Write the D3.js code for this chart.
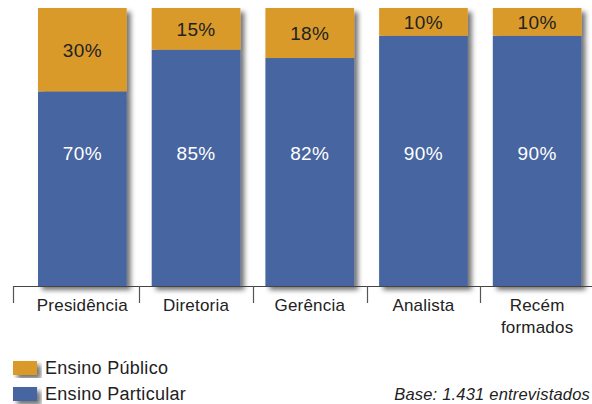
<!DOCTYPE html>
<html>
<head>
<meta charset="utf-8">
<script src="https://cdn.jsdelivr.net/npm/d3@7"></script>
<style>
  html, body { margin: 0; padding: 0; background: #fff; }
  svg { display: block; font-family: "Liberation Sans", Arial, Helvetica, sans-serif; }
</style>
</head>
<body>
<svg id="chart" width="592" height="404"></svg>
<script>
// Categories and shares (%) by school type
const categories = ["Presidência", "Diretoria", "Gerência", "Analista", "Recém formados"];
const publico = [30, 15, 18, 10, 10];
const particular = [70, 85, 82, 90, 90];
const seriesNames = ["Ensino Público", "Ensino Particular"];
const seriesColors = ["#DA9A2A", "#4765A1"];
const baseNote = "Base: 1.431 entrevistados";

const svg = d3.select("#chart");

// Drop shadow used by bars and legend swatches
const defs = svg.append("defs");
const f = defs.append("filter").attr("id", "shadow")
  .attr("x", "-10%").attr("y", "-10%").attr("width", "130%").attr("height", "130%");
f.append("feDropShadow").attr("dx", 4).attr("dy", 4).attr("stdDeviation", 2.6)
  .attr("flood-color", "#000").attr("flood-opacity", 0.55);

const x = d3.scaleBand().domain(categories).range([25.5, 594]).paddingInner(0.22).paddingOuter(0.11);
const y = d3.scaleLinear().domain([0, 100]).range([286, 8]);

const rows = categories.map((c, i) => ({ cat: c, pub: publico[i], par: particular[i] }));

// Stacked bars: private school at bottom, public on top
const g = svg.append("g");
const bar = g.selectAll("g.bar").data(rows).join("g").attr("class", "bar");

bar.append("g").attr("filter", "url(#shadow)").call(sel => {
  sel.append("rect")
    .attr("x", d => x(d.cat)).attr("width", x.bandwidth())
    .attr("y", d => y(d.par)).attr("height", d => y(0) - y(d.par))
    .attr("fill", seriesColors[1]);
  sel.append("rect")
    .attr("x", d => x(d.cat)).attr("width", x.bandwidth())
    .attr("y", d => y(d.par + d.pub)).attr("height", d => y(d.par) - y(d.par + d.pub))
    .attr("fill", seriesColors[0]);
});

// Value labels
bar.append("text")
  .attr("x", d => x(d.cat) + x.bandwidth() / 2)
  .attr("y", d => (y(d.par + d.pub) + y(d.par)) / 2)
  .attr("dy", "0.36em")
  .attr("text-anchor", "middle")
  .attr("font-size", 19)
  .attr("letter-spacing", 0.4)
  .attr("fill", "#222")
  .text(d => d.pub + "%");

bar.append("text")
  .attr("x", d => x(d.cat) + x.bandwidth() / 2)
  .attr("y", y(47.8))
  .attr("dy", "0.36em")
  .attr("text-anchor", "middle")
  .attr("font-size", 19)
  .attr("letter-spacing", 0.4)
  .attr("fill", "#fff")
  .text(d => d.par + "%");

// Baseline with separators between categories
const axis = svg.append("g");
const half = x.step() * x.paddingInner() / 2;
const axisStart = x(categories[0]) - 2 * half;
axis.append("line")
  .attr("x1", axisStart).attr("x2", 592)
  .attr("y1", y(0) + 0.5).attr("y2", y(0) + 0.5)
  .attr("stroke", "#444").attr("stroke-width", 1.2);
const seps = [axisStart].concat(categories.slice(1).map(c => x(c) - half));
axis.selectAll("line.sep").data(seps).join("line").attr("class", "sep")
  .attr("x1", d => Math.round(d) + 0.5).attr("x2", d => Math.round(d) + 0.5)
  .attr("y1", y(0)).attr("y2", y(0) + 17)
  .attr("stroke", "#555").attr("stroke-width", 1.2);

// Category labels (split on space for the last one)
axis.selectAll("text.cat").data(categories).join("text").attr("class", "cat")
  .attr("x", d => x(d) + x.bandwidth() / 2)
  .attr("y", 311)
  .attr("text-anchor", "middle")
  .attr("font-size", 17)
  .attr("letter-spacing", 0.2)
  .attr("fill", "#222")
  .each(function (d) {
    const parts = d === "Recém formados" ? ["Recém", "formados"] : [d];
    d3.select(this).selectAll("tspan").data(parts).join("tspan")
      .attr("x", x(d) + x.bandwidth() / 2)
      .attr("dy", (p, i) => i === 0 ? 0 : 22)
      .text(p => p);
  });

// Legend
const legend = svg.append("g");
const lg = legend.selectAll("g").data(seriesNames).join("g")
  .attr("transform", (d, i) => `translate(13, ${361 + i * 26})`);
lg.append("rect").attr("width", 24).attr("height", 14)
  .attr("fill", (d, i) => seriesColors[i]).attr("filter", "url(#shadow)");
lg.append("text").attr("x", 32).attr("y", 12.5)
  .attr("font-size", 18).attr("letter-spacing", 0.3).attr("fill", "#222")
  .text(d => d);

// Sample size note, right-aligned to the page edge
svg.append("text")
  .attr("x", 590).attr("y", 400)
  .attr("text-anchor", "end")
  .attr("font-size", 16.5).attr("font-style", "italic")
  .attr("letter-spacing", 0.2).attr("fill", "#222")
  .text(baseNote);
</script>
</body>
</html>
